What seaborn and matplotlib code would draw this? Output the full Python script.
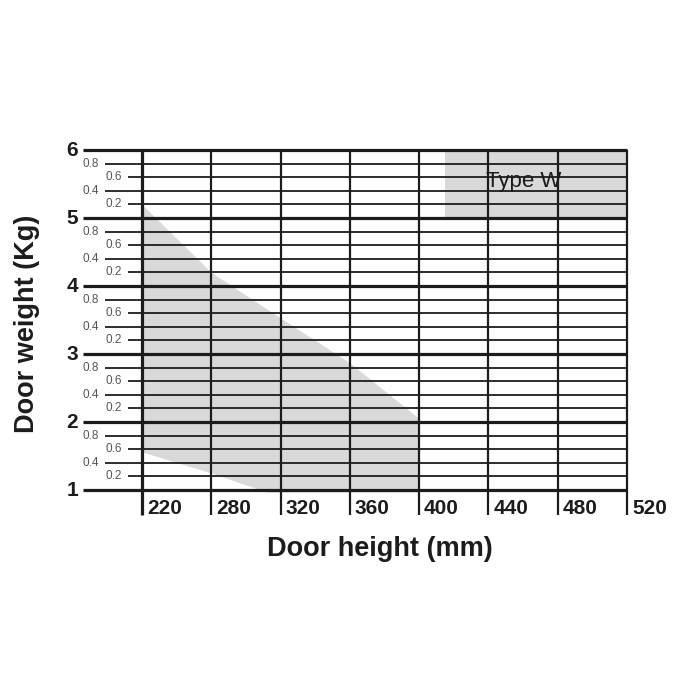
import numpy as np
import matplotlib
matplotlib.use("Agg")
import matplotlib.pyplot as plt
import seaborn as sns

# ---- data ----
x_labels = ["220", "280", "320", "360", "400", "440", "480", "520"]
y_major = [1, 2, 3, 4, 5, 6]
y_minor_labels = ["0.2", "0.4", "0.6", "0.8"]
y_minor_offsets = [0.2, 0.4, 0.6, 0.8]

# shaded working range (x in category index units, y in kg)
upper_x = [0, 1, 2, 3, 4]
upper_y = [5.2, 4.2, 3.53, 2.87, 2.05]
lower_x = [0, 1, 1.8, 2, 4]
lower_y = [1.56, 1.25, 0.97, 0.97, 0.97]

# Type W range
typew_x = [4.37, 7]
typew_y = [5, 6]
typew_label = "Type W"

x_title = "Door height (mm)"
y_title = "Door weight (Kg)"

# ---- figure ----
sns.set_theme(style="white")
plt.rcParams['font.family'] = ['Liberation Sans', 'DejaVu Sans']

fig = plt.figure(figsize=(7, 7), dpi=100)
ax = fig.add_axes([0, 0, 1, 1])
ax.set_xlim(-2.049, 8.052)
ax.set_ylim(-2.088, 8.206)
ax.axis("off")

shade = "#d9d9d9"
ink = "#1c1c1c"
n = len(x_labels)
xr = n - 1

# shaded areas
ux = np.linspace(0, 4, 200)
uy = np.interp(ux, upper_x, upper_y)
ly = np.interp(ux, lower_x, lower_y)
ax.fill_between(ux, ly, uy, color=shade, lw=0, zorder=1)
ax.fill_between(typew_x, [typew_y[0]] * 2, [typew_y[1]] * 2, color=shade, lw=0, zorder=1)

# horizontal lines
for v in y_major:
    ax.hlines(v, -0.85, xr, color=ink, lw=2.3, zorder=3)
    ax.text(-0.92, v, str(v), ha="right", va="center", fontsize=15,
            fontweight="bold", color=ink)
for v in y_major[:-1]:
    for off, lab in zip(y_minor_offsets, y_minor_labels):
        start = -0.53 if lab in ("0.8", "0.4") else -0.2
        ax.hlines(v + off, start, xr, color=ink, lw=1.3, zorder=3)
        ax.text(start - 0.09, v + off, lab, ha="right", va="center",
                fontsize=8.5, color="#555555")

# vertical lines
for i, lab in enumerate(x_labels):
    ax.vlines(i, 1 - 0.37, 6, color=ink, lw=2.3 if i == 0 else 1.6, zorder=3)
    ax.text(i + 0.07, 0.735, lab, ha="left", va="center", fontsize=15,
            fontweight="bold", color=ink)

# Type W label
ax.text(5.515, 5.53, typew_label, ha="center", va="center", fontsize=16,
        color=ink, zorder=4)

# axis titles
ax.text(3.43, 0.13, x_title, ha="center", va="center", fontsize=19.5,
        fontweight="bold", color=ink)
ax.text(-1.66, 3.45, y_title, ha="center", va="center", fontsize=19.5,
        fontweight="bold", color=ink, rotation=90)

fig.savefig("out.png", dpi=100, facecolor="white")
